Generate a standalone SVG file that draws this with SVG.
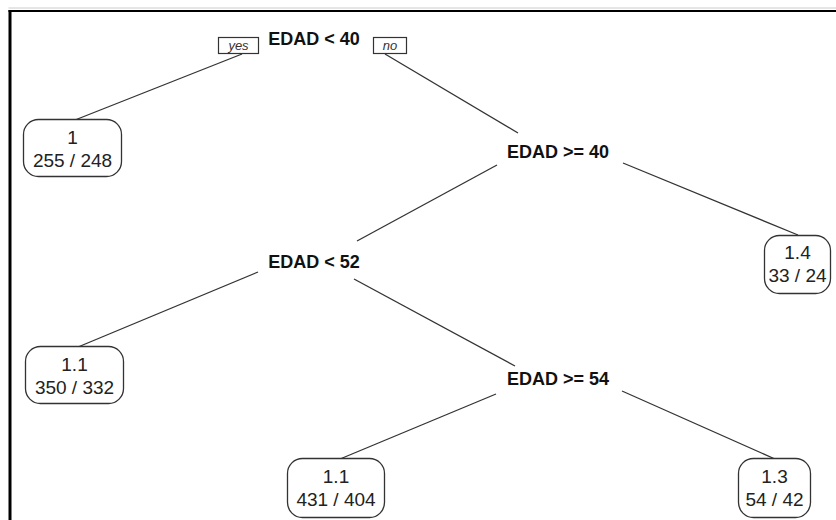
<svg xmlns="http://www.w3.org/2000/svg" width="836" height="520" viewBox="0 0 836 520">
  <style>
    .split { font-family: "Liberation Sans", Arial, sans-serif; font-size: 18px; font-weight: bold; fill: #111; text-anchor: middle; }
    .leaf rect { fill: #fff; stroke: #333; stroke-width: 1.3; }
    .leaf text { font-family: "Liberation Sans", Arial, sans-serif; font-size: 19px; fill: #222; text-anchor: middle; }
    .tag rect { fill: #fff; stroke: #333; stroke-width: 1.2; }
    .tag text { font-family: "Liberation Sans", Arial, sans-serif; font-size: 13px; font-style: italic; fill: #333; text-anchor: middle; }
    .edges line { stroke: #333; stroke-width: 1.3; }
  </style>
  <rect x="0" y="0" width="836" height="520" fill="#fff"/>
  <!-- frame -->
  <g id="frame" stroke="#000" fill="none">
    <line x1="8.5" y1="11" x2="836" y2="11" stroke-width="2"/>
    <line x1="10" y1="10" x2="10" y2="520" stroke-width="3"/>
    <line x1="8.5" y1="8" x2="836" y2="8" stroke="#ccc" stroke-width="1"/>
  </g>

  <!-- connectors -->
  <g id="edges" class="edges">
    <line x1="242" y1="54" x2="75" y2="120"/>
    <line x1="385" y1="54" x2="518" y2="133"/>
    <line x1="497" y1="165" x2="357" y2="241"/>
    <line x1="623" y1="163" x2="798" y2="235"/>
    <line x1="258" y1="272" x2="78" y2="347"/>
    <line x1="354" y1="279" x2="515" y2="366"/>
    <line x1="496" y1="394" x2="340" y2="459"/>
    <line x1="622" y1="391" x2="775" y2="459"/>
  </g>

  <!-- root split -->
  <g id="n-root">
    <text class="split" x="314" y="45">EDAD &lt; 40</text>
    <g class="tag">
      <rect x="218.5" y="37.5" width="40" height="16"/>
      <text x="238.5" y="50">yes</text>
    </g>
    <g class="tag">
      <rect x="373.5" y="37.5" width="33" height="16"/>
      <text x="390" y="50">no</text>
    </g>
  </g>

  <g id="n-edad-ge-40">
    <text class="split" x="558" y="158">EDAD &gt;= 40</text>
  </g>

  <g id="n-edad-lt-52">
    <text class="split" x="314" y="268">EDAD &lt; 52</text>
  </g>

  <g id="n-edad-ge-54">
    <text class="split" x="558" y="385">EDAD &gt;= 54</text>
  </g>

  <!-- leaves -->
  <g id="leaf-1" class="leaf">
    <rect x="23.5" y="119.5" width="98" height="57" rx="15" ry="15"/>
    <text x="72.5" y="144">1</text>
    <text x="72.5" y="167">255 / 248</text>
  </g>

  <g id="leaf-1-4" class="leaf">
    <rect x="764.5" y="235.5" width="66" height="58" rx="15" ry="15"/>
    <text x="797.5" y="259">1.4</text>
    <text x="797.5" y="282">33 / 24</text>
  </g>

  <g id="leaf-1-1-a" class="leaf">
    <rect x="25.5" y="346.5" width="98" height="57" rx="15" ry="15"/>
    <text x="74.5" y="371">1.1</text>
    <text x="74.5" y="394">350 / 332</text>
  </g>

  <g id="leaf-1-1-b" class="leaf">
    <rect x="287.5" y="458.5" width="97" height="59" rx="15" ry="15"/>
    <text x="336" y="483">1.1</text>
    <text x="336" y="506">431 / 404</text>
  </g>

  <g id="leaf-1-3" class="leaf">
    <rect x="738.5" y="458.5" width="72" height="59" rx="15" ry="15"/>
    <text x="774.5" y="483">1.3</text>
    <text x="774.5" y="506">54 / 42</text>
  </g>
</svg>
